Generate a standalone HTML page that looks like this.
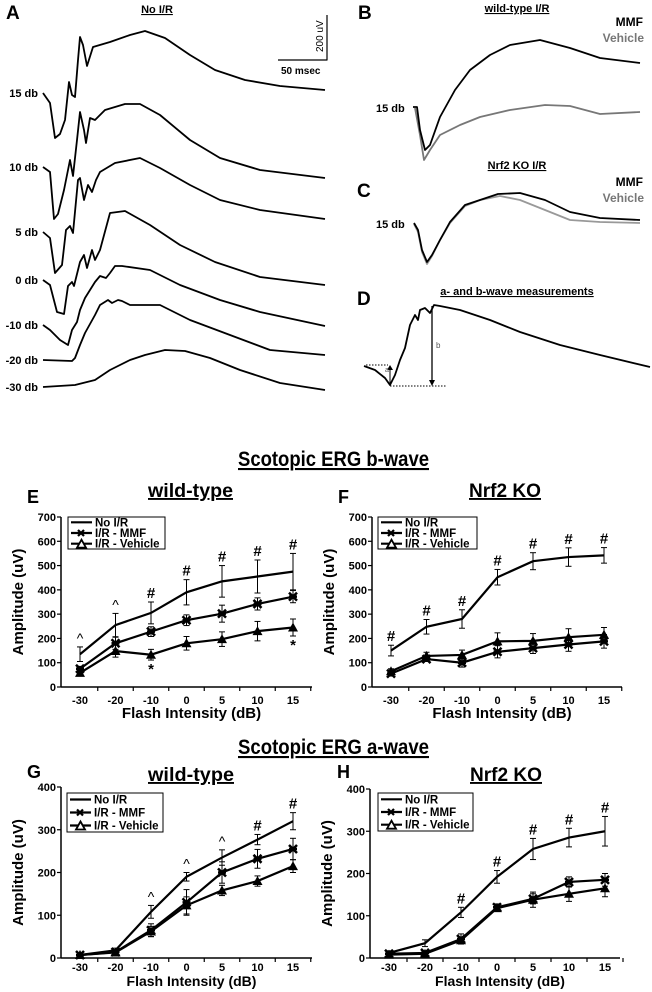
<!DOCTYPE html>
<html><head><meta charset="utf-8"><style>
html,body{margin:0;padding:0;background:#fff;}
svg{display:block;font-family:"Liberation Sans",Arial,sans-serif;}
</style></head><body>
<svg id="fig" width="652" height="992" viewBox="0 0 652 992" xmlns="http://www.w3.org/2000/svg">
<g id="topg" fill="none" stroke="#000" stroke-width="1.8" stroke-linejoin="round"></g>
<g id="txtg" font-weight="bold" font-size="12" fill="#000">
 <text x="6" y="19" font-size="19">A</text>
 <text x="157" y="13" text-anchor="middle" text-decoration="underline" font-size="11">No I/R</text>
 <text x="358" y="19" font-size="19">B</text>
 <text x="517" y="12" text-anchor="middle" text-decoration="underline" font-size="11">wild-type I/R</text>
 <text x="643" y="26" text-anchor="end" font-size="12">MMF</text>
 <text x="644" y="42" text-anchor="end" font-size="12" fill="#777">Vehicle</text>
 <text x="357" y="197" font-size="19">C</text>
 <text x="517" y="169" text-anchor="middle" text-decoration="underline" font-size="11">Nrf2 KO I/R</text>
 <text x="643" y="186" text-anchor="end" font-size="12">MMF</text>
 <text x="644" y="202" text-anchor="end" font-size="12" fill="#777">Vehicle</text>
 <text x="357" y="305" font-size="19">D</text>
 <text x="517" y="295" text-anchor="middle" text-decoration="underline" font-size="11">a- and b-wave measurements</text>
 <text x="376" y="112" font-size="11">15 db</text>
 <text x="376" y="228" font-size="11">15 db</text>
 <text x="281" y="74" font-size="10">50 msec</text>
 <text transform="translate(323,52) rotate(-90)" font-size="10" font-weight="normal">200 uV</text>
 <text x="385" y="372" font-size="7" font-weight="normal" fill="#555">a</text>
 <text x="436" y="348" font-size="8" font-weight="normal" fill="#555">b</text>
 <text x="238" y="466" font-size="21" text-decoration="underline" textLength="191" lengthAdjust="spacingAndGlyphs">Scotopic ERG b-wave</text>
 <text x="238" y="754" font-size="21" text-decoration="underline" textLength="191" lengthAdjust="spacingAndGlyphs">Scotopic ERG a-wave</text>
</g>
<g id="charts"></g>
</svg>
<script>
const dbLabels = ["15 db","10 db","5 db","0 db","-10 db","-20 db","-30 db"];
const dbLabelY = [93,167,232,280,325,360,387];
const traceA = [
 [[43,93],[50,103],[55,138],[60,134],[65,120],[69,82],[72,95],[75,97],[78,60],[80,37],[83,45],[87,66],[93,47],[110,42],[130,35],[145,31],[165,38],[190,55],[215,70],[245,80],[280,86],[325,90]],
 [[43,167],[50,172],[54,219],[58,214],[64,190],[70,160],[73,176],[77,140],[80,112],[84,130],[86,143],[90,118],[95,120],[105,110],[125,104],[140,104],[160,115],[190,140],[220,158],[260,170],[325,178]],
 [[43,232],[50,238],[55,273],[62,265],[66,230],[70,226],[73,233],[78,180],[80,178],[84,200],[88,185],[92,192],[96,180],[100,172],[115,163],[140,158],[160,168],[190,185],[220,200],[260,210],[325,219]],
 [[43,280],[50,285],[57,312],[64,314],[68,286],[72,282],[74,286],[80,262],[84,255],[87,268],[92,250],[95,260],[100,250],[110,213],[125,211],[150,225],[180,245],[215,262],[260,277],[325,285]],
 [[43,325],[50,330],[60,340],[68,345],[72,330],[77,322],[80,310],[85,298],[95,282],[100,276],[106,278],[110,273],[115,266],[122,266],[150,270],[180,285],[220,300],[260,312],[325,326]],
 [[43,360],[72,361],[75,358],[80,345],[85,333],[95,315],[100,305],[108,300],[112,303],[118,300],[122,301],[130,305],[160,305],[190,320],[230,335],[270,350],[325,355]],
 [[43,387],[75,385],[95,380],[110,370],[130,360],[145,355],[165,350],[185,351],[210,358],[240,370],[280,383],[325,390]]
];
const traceBmmf = [[413,107],[417,107],[420,130],[425,150],[430,145],[440,117],[455,90],[470,70],[490,55],[510,45],[540,40],[570,48],[600,58],[640,63]];
const traceBveh = [[415,108],[420,135],[424,160],[430,150],[440,135],[460,125],[480,117],[510,110],[545,105],[570,106],[600,114],[640,112]];
const traceCmmf = [[414,223],[418,230],[422,250],[427,262],[432,255],[440,240],[450,222],[465,205],[480,200],[498,194],[520,193],[545,200],[570,212],[600,218],[640,220]];
const traceCveh = [[414,224],[418,232],[422,252],[427,264],[432,256],[440,240],[450,223],[465,206],[480,200],[500,196],[520,200],[545,210],[570,220],[600,222],[640,223]];
const traceD = [[364,366],[375,370],[385,378],[390,385],[395,375],[400,360],[405,348],[410,325],[415,315],[418,320],[420,310],[425,308],[430,313],[434,305],[440,306],[460,310],[490,320],[520,332],[560,345],[600,355],[650,367]];

const NS="http://www.w3.org/2000/svg";
function mk(tag,attrs,parent){const e=document.createElementNS(NS,tag);for(const k in attrs)e.setAttribute(k,attrs[k]);parent.appendChild(e);return e;}
function pts(a){return a.map(p=>p.join(",")).join(" ");}
const topG=document.getElementById("topg");
const txtG=document.getElementById("txtg");
traceA.forEach((t,i)=>{
 const pl=mk("polyline",{points:pts(t)},topG);
 
 
 const tx=mk("text",{x:38,y:dbLabelY[i]+4,"text-anchor":"end","font-size":"11"},txtG);
 tx.textContent=dbLabels[i];
 
 
});
[[traceBveh,"#777"],[traceBmmf,"#000"],[traceCveh,"#999"],[traceCmmf,"#000"],[traceD,"#000"]].forEach((t)=>{
 const pl=mk("polyline",{points:pts(t[0]),stroke:t[1]},topG);
 
 
});
mk("polyline",{points:"278,60 327,60 327,15","stroke-width":"1.2"},topG);
mk("line",{x1:366,y1:365,x2:388,y2:365,"stroke-width":"1","stroke-dasharray":"1.5,1.5"},topG);
mk("line",{x1:390,y1:386,x2:446,y2:386,"stroke-width":"1","stroke-dasharray":"1.5,1.5"},topG);
mk("line",{x1:390,y1:384,x2:390,y2:369,"stroke-width":"1"},topG);
mk("polygon",{points:"387,370 393,370 390,365",fill:"#000","stroke-width":"0"},topG);
mk("line",{x1:432,y1:306,x2:432,y2:381,"stroke-width":"1.3"},topG);
mk("polygon",{points:"429,380 435,380 432,386",fill:"#000","stroke-width":"0"},topG);

const categories = ["-30","-20","-10","0","5","10","15"];
const eNoIR = [135,255,305,390,435,455,475];
const eNoIRErr = [30,48,45,52,65,68,75];
const eMMF = [75,180,228,275,302,342,372];
const eMMFErr = [10,25,20,22,35,25,25];
const eVeh = [58,148,133,180,197,230,245];
const eVehErr = [10,25,22,28,30,40,35];
const eMarks = ["^","^","#","#","#","#","#"];
const eStars = ["","","*","","","","*"];
const fNoIR = [150,248,280,452,518,535,542];
const fNoIRErr = [22,30,38,32,35,38,32];
const fMMF = [55,115,100,145,160,175,188];
const fMMFErr = [10,10,18,25,22,28,28];
const fVeh = [65,128,132,188,190,205,215];
const fVehErr = [10,15,20,35,30,35,30];
const fMarks = ["#","#","#","#","#","#","#"];
const gNoIR = [7,18,108,190,235,277,320];
const gNoIRErr = [3,5,15,10,18,12,20];
const gMMF = [7,14,65,130,200,232,255];
const gMMFErr = [3,5,15,30,25,22,25];
const gVeh = [7,13,62,123,158,180,215];
const gVehErr = [3,3,12,20,12,12,15];
const gMarks = ["","","^","^","^","#","#"];
const hNoIR = [12,35,108,192,258,285,300];
const hNoIRErr = [5,8,12,15,25,22,35];
const hMMF = [10,12,45,120,140,180,185];
const hMMFErr = [3,5,12,8,12,12,15];
const hVeh = [8,10,42,118,138,152,165];
const hVehErr = [3,3,8,8,18,18,20];
const hMarks = ["","","#","#","#","#","#"];
const bTicks = [0,100,200,300,400,500,600,700];
const aTicks = [0,100,200,300,400];

const charts=document.getElementById("charts");
function chart(cfg){
 const g=mk("g",{},charts);
 
 
 const {ax,y0,ytop,ymax,x0,x1,xend}=cfg;
 const Y=v=>y0-(v/ymax)*(y0-ytop);
 const step=(x1-x0)/(categories.length-1);
 const X=i=>x0+i*step;
 mk("line",{x1:ax,y1:ytop,x2:ax,y2:y0,stroke:"#000","stroke-width":"1.5"},g);
 mk("line",{x1:ax,y1:y0,x2:xend,y2:y0,stroke:"#000","stroke-width":"1.5"},g);
 cfg.ticks.forEach(t=>{
  mk("line",{x1:ax-4,y1:Y(t),x2:ax,y2:Y(t),stroke:"#000","stroke-width":"1.2"},g);
  const tx=mk("text",{x:ax-5,y:Y(t)+4,"text-anchor":"end","font-size":"11","font-weight":"bold"},g);
  tx.textContent=t;
  
  
 });
 categories.forEach((c,i)=>{
  mk("line",{x1:X(i)+step/2,y1:y0,x2:X(i)+step/2,y2:y0+4,stroke:"#000","stroke-width":"1.2"},g);
  const tx=mk("text",{x:X(i),y:y0+cfg.tl,"text-anchor":"middle","font-size":"11","font-weight":"bold"},g);
  tx.textContent=c;
  
  
 });
 const xt=mk("text",{x:(ax+xend)/2+5,y:y0+cfg.xo,"text-anchor":"middle","font-size":cfg.xf,"font-weight":"bold"},g);
 xt.textContent="Flash Intensity (dB)";
 
 
 const yt=mk("text",{transform:`translate(${ax-38},${(y0+ytop)/2}) rotate(-90)`,"text-anchor":"middle","font-size":"15","font-weight":"bold"},g);
 yt.textContent="Amplitude (uV)";
 
 
 const series=[[cfg.veh,cfg.vehErr,"tri"],[cfg.mmf,cfg.mmfErr,"x"],[cfg.noir,cfg.noirErr,"none"]];
 series.forEach(([vals,errs,m])=>{
  vals.forEach((v,i)=>{
   const x=X(i),yt2=Y(v+errs[i]),yb=Y(v-errs[i]);
   mk("line",{x1:x,y1:yt2,x2:x,y2:yb,stroke:"#000","stroke-width":"1"},g);
   mk("line",{x1:x-3,y1:yt2,x2:x+3,y2:yt2,stroke:"#000","stroke-width":"1"},g);
   mk("line",{x1:x-3,y1:yb,x2:x+3,y2:yb,stroke:"#000","stroke-width":"1"},g);
  });
  const pl=mk("polyline",{points:vals.map((v,i)=>X(i)+","+Y(v)).join(" "),fill:"none",stroke:"#000","stroke-width":"2.2"},g);
  
  
  vals.forEach((v,i)=>{
   const x=X(i),y=Y(v);
   if(m==="tri"){const p=mk("polygon",{points:`${x-5},${y+4} ${x+5},${y+4} ${x},${y-5}`,fill:"#000"},g);
    }
   else if(m==="x"){const p=mk("path",{d:`M${x-4},${y-4}L${x+4},${y+4}M${x+4},${y-4}L${x-4},${y+4}M${x-4},${y}L${x+4},${y}`,stroke:"#000","stroke-width":"2.5"},g);
    }
  });
 });
 cfg.marks.forEach((s,i)=>{ if(!s)return;
  const tx=mk("text",{x:X(i),y:Y(cfg.noir[i]+cfg.noirErr[i])-4,"text-anchor":"middle","font-size":s==="^"?"14":"15","font-weight":s==="^"?"normal":"bold"},g);
  tx.textContent=s;
  
  
 });
 (cfg.stars||[]).forEach((s,i)=>{ if(!s)return;
  const tx=mk("text",{x:X(i),y:Y(cfg.veh[i]-cfg.vehErr[i])+14,"text-anchor":"middle","font-size":"15","font-weight":"bold"},g);
  tx.textContent=s;
  
  
 });
 const [lx,ly,lw,lh]=cfg.leg;
 const lg=mk("g",{},g);
 
 
 mk("rect",{x:lx,y:ly,width:lw,height:lh,fill:"#fff",stroke:"#000","stroke-width":"1"},lg);
 const names=["No I/R","I/R - MMF","I/R - Vehicle"];
 names.forEach((n,k)=>{
  const yy=ly+lh*(k+0.5)/3;
  mk("line",{x1:lx+3,y1:yy,x2:lx+24,y2:yy,stroke:"#000","stroke-width":"2.2"},lg);
  if(k===1)mk("path",{d:`M${lx+10},${yy-3}L${lx+16},${yy+3}M${lx+16},${yy-3}L${lx+10},${yy+3}`,stroke:"#000","stroke-width":"2.2"},lg);
  if(k===2)mk("polygon",{points:`${lx+9},${yy+4} ${lx+18},${yy+4} ${lx+13.5},${yy-4}`,fill:"#fff",stroke:"#000","stroke-width":"1.8"},lg);
  const tx=mk("text",{x:lx+27,y:yy+4,"font-size":"11.5","font-weight":"bold"},lg);
  tx.textContent=n;
  
  
 });
 const pl=mk("text",{x:cfg.lab[0],y:cfg.lab[1],"font-size":"18","font-weight":"bold"},g);
 pl.textContent=cfg.letter;
 
 
 const tt=mk("text",{x:cfg.title[0],y:cfg.title[1],"font-size":"19","font-weight":"bold","text-decoration":"underline",textLength:cfg.title[2],lengthAdjust:"spacingAndGlyphs"},g);
 tt.textContent=cfg.titleText;
 
 
}
chart({name:"chart-e",ax:61,y0:687,ytop:517,ymax:700,x0:80,x1:293,xend:312,tl:17,xo:31,xf:15,ticks:bTicks,noir:eNoIR,noirErr:eNoIRErr,mmf:eMMF,mmfErr:eMMFErr,veh:eVeh,vehErr:eVehErr,marks:eMarks,stars:eStars,leg:[68,517,97,32],letter:"E",lab:[27,503],title:[148,497,85],titleText:"wild-type"});
chart({name:"chart-f",ax:372,y0:687,ytop:517,ymax:700,x0:391,x1:604,xend:622,tl:17,xo:31,xf:15,ticks:bTicks,noir:fNoIR,noirErr:fNoIRErr,mmf:fMMF,mmfErr:fMMFErr,veh:fVeh,vehErr:fVehErr,marks:fMarks,leg:[378,517,99,32],letter:"F",lab:[338,503],title:[469,497,72],titleText:"Nrf2 KO"});
chart({name:"chart-g",ax:61,y0:958,ytop:787,ymax:400,x0:80,x1:293,xend:312,tl:13,xo:28,xf:14,ticks:aTicks,noir:gNoIR,noirErr:gNoIRErr,mmf:gMMF,mmfErr:gMMFErr,veh:gVeh,vehErr:gVehErr,marks:gMarks,leg:[67,793,96,39],letter:"G",lab:[27,778],title:[148,781,86],titleText:"wild-type"});
chart({name:"chart-h",ax:370,y0:958,ytop:789,ymax:400,x0:389,x1:605,xend:620,tl:13,xo:28,xf:14,ticks:aTicks,noir:hNoIR,noirErr:hNoIRErr,mmf:hMMF,mmfErr:hMMFErr,veh:hVeh,vehErr:hVehErr,marks:hMarks,leg:[378,793,95,38],letter:"H",lab:[337,778],title:[470,781,72],titleText:"Nrf2 KO"});
</script>
</body></html>
